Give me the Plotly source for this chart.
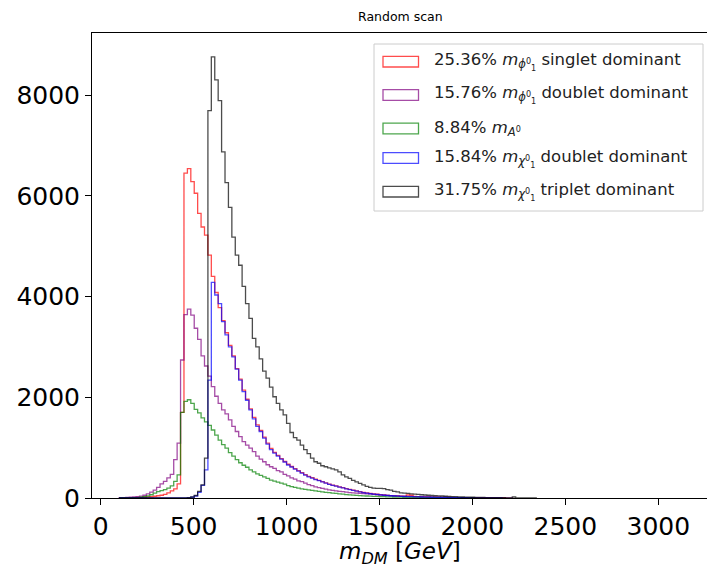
import plotly.graph_objects as go

# Histogram binning (GeV)
FIRST_EDGE = 98.4
BIN_WIDTH = 18.4

# Series labels, in drawing / legend order
labels = [
    "25.36% <i>m</i><sub><i>ϕ</i><sup>0</sup><sub>1</sub></sub> singlet dominant",
    "15.76% <i>m</i><sub><i>ϕ</i><sup>0</sup><sub>1</sub></sub> doublet dominant",
    "8.84% <i>m</i><sub><i>A</i><sup>0</sup></sub>",
    "15.84% <i>m</i><sub><i>χ</i><sup>0</sup><sub>1</sub></sub> doublet dominant",
    "31.75% <i>m</i><sub><i>χ</i><sup>0</sup><sub>1</sub></sub> triplet dominant",
]

colors = [
    "rgba(255,0,0,0.7)",
    "rgba(128,0,128,0.7)",
    "rgba(0,128,0,0.7)",
    "rgba(0,0,255,0.7)",
    "rgba(0,0,0,0.7)",
]

# Counts per bin, first bin starts at FIRST_EDGE
phi_singlet = [
    0, 2, 3, 5, 7, 10, 12, 15, 20, 25, 35, 45, 55, 70, 100, 140, 180, 280, 1700,
    6450, 6540, 6280, 6050, 5650, 5380, 5220, 4820, 4400, 4080,
    3780, 3520, 3280, 3030, 2820, 2570, 2360, 2140, 1960, 1770,
    1600, 1450, 1340, 1210, 1090, 985, 905, 845, 780, 725,
    670, 625, 585, 545, 505, 465, 430, 405, 375, 350,
    325, 300, 275, 255, 240, 220, 205, 185, 170, 155,
    140, 125, 112, 100, 90, 82, 74, 66, 60, 54,
    48, 43, 40, 36, 33, 60, 55, 30, 28, 25,
    22, 20, 18, 16, 15, 13, 12, 10, 9, 8,
    7, 6, 5, 5, 4, 4, 3, 3, 2, 2, 2, 1, 1, 1,
]

phi_doublet = [
    3, 8, 12, 18, 22, 28, 38, 55, 80, 115, 155, 210, 280, 330, 400, 470, 760, 1090, 2740,
    3640, 3750, 3630, 3370, 3150, 2820, 2620, 2420, 2210, 2020,
    1880, 1750, 1670, 1550, 1420, 1320, 1220, 1120, 1050, 990,
    920, 830, 770, 720, 660, 620, 590, 545, 520, 470,
    440, 400, 375, 340, 325, 295, 265, 245, 220, 205,
    190, 175, 160, 150, 140, 130, 125, 115, 108, 100,
    95, 90, 85, 80, 75, 70, 65, 60, 56, 52,
    48, 45, 42, 38, 35, 32, 30, 28, 26, 24,
    22, 20, 18, 16, 15, 14, 12, 11, 10, 9,
    8, 7, 6, 5, 5, 4, 4, 3, 3, 2, 2, 2, 1, 1, 1, 1,
]

a_zero = [
    0, 1, 2, 3, 5, 8, 15, 25, 40, 65, 95, 125, 145, 165, 195, 240, 330, 460, 1700,
    1920, 1950, 1880, 1760, 1690, 1590, 1510, 1440, 1350, 1250,
    1150, 1060, 990, 900, 830, 760, 700, 650, 610, 560,
    520, 480, 450, 420, 390, 355, 335, 315, 295, 275,
    245, 225, 210, 195, 180, 170, 160, 150, 140, 130,
    120, 112, 105, 98, 90, 82, 75, 68, 62, 57,
    52, 48, 44, 40, 37, 34, 31, 28, 26, 24,
    22, 20, 18, 16, 15, 14, 12, 11, 10, 9,
    8, 7, 6, 5, 5, 4, 4, 3, 3, 2, 2, 2, 1, 1, 1,
]

chi_doublet = [
    0, 0, 0, 0, 0, 0, 0, 0, 0, 0, 0, 0, 0, 0, 0, 0, 0, 0, 1,
    2, 5, 15, 40, 110, 250, 560, 2340, 4280, 4030,
    3860, 3500, 3240, 3000, 2800, 2560, 2340, 2110, 1940, 1750,
    1570, 1420, 1320, 1190, 1070, 960, 890, 830, 770, 715,
    655, 615, 575, 535, 495, 455, 420, 395, 365, 345,
    320, 295, 270, 250, 235, 215, 200, 180, 165, 150,
    135, 120, 108, 97, 87, 78, 70, 62, 55, 50,
    45, 40, 36, 33, 30, 28, 26, 24, 22, 20,
    18, 16, 15, 14, 12, 11, 10, 9, 8, 7,
    6, 5, 5, 4, 4, 3, 3, 2, 2, 2, 1, 1, 1,
]

chi_triplet = [
    0, 0, 0, 0, 0, 0, 0, 0, 0, 0, 0, 0, 0, 0, 0, 0, 0, 1, 2,
    3, 8, 20, 50, 130, 260, 790, 7690, 8756, 8300,
    7890, 6870, 6260, 5770, 5180, 4820, 4620, 4200, 3860, 3565,
    3170, 3000, 2760, 2520, 2380, 2200, 2010, 1880, 1750, 1650,
    1480, 1300, 1200, 1150, 1050, 960, 880, 790, 720, 690,
    640, 620, 600, 580, 560, 520, 460, 420, 390, 350,
    320, 290, 260, 230, 210, 195, 192, 192, 185, 165,
    155, 130, 120, 100, 95, 90, 80, 78, 70, 65,
    60, 55, 50, 45, 42, 40, 35, 30, 28, 26,
    22, 20, 18, 16, 15, 14, 12, 10, 9, 8,
    7, 6, 5, 5, 4, 4, 20, 3, 2, 2, 2, 1, 1,
]

series = [phi_singlet, phi_doublet, a_zero, chi_doublet, chi_triplet]

x_ticks = [0, 500, 1000, 1500, 2000, 2500, 3000]
y_ticks = [0, 2000, 4000, 6000, 8000]

fig = go.Figure()

for counts, color in zip(series, colors):
    edges = [FIRST_EDGE + BIN_WIDTH * i for i in range(len(counts) + 1)]
    xs = [edges[0]] + edges[:-1] + [edges[-1]]
    ys = [0] + list(counts) + [0]
    fig.add_trace(go.Scatter(
        x=xs, y=ys, mode="lines",
        line=dict(shape="hv", color=color, width=1.3),
        showlegend=False, hoverinfo="skip",
    ))

# Plot-area geometry in pixels, used to place the legend box
L, R, T, B = 92, 707, 33, 498
W, H = R - L, B - T


def px(x):
    return (x - L) / W


def py(y):
    return (B - y) / H


shapes = [
    dict(type="rect", xref="paper", yref="paper",
         x0=px(374), x1=px(703), y0=py(211), y1=py(44),
         line=dict(color="rgba(204,204,204,1)", width=1),
         fillcolor="rgba(255,255,255,0.8)", layer="above"),
]
annotations = []
row_centers = [61.7, 95.0, 128.5, 158.0, 191.7]
for lab, color, yc in zip(labels, colors, row_centers):
    shapes.append(dict(
        type="rect", xref="paper", yref="paper",
        x0=px(383), x1=px(418.5), y0=py(yc + 5.3), y1=py(yc - 5.3),
        line=dict(color=color, width=1.3), fillcolor="rgba(0,0,0,0)", layer="above",
    ))
    annotations.append(dict(
        text=lab, xref="paper", yref="paper", x=px(432), y=py(yc),
        xanchor="left", yanchor="middle", showarrow=False,
        font=dict(size=16.5, family="DejaVu Sans", color="#222"),
    ))

annotations.append(dict(
    text="Random scan", xref="paper", yref="paper", x=px(400), y=py(17),
    xanchor="center", yanchor="middle", showarrow=False,
    font=dict(size=12.5, family="DejaVu Sans", color="black"),
))
annotations.append(dict(
    text="<i>m</i><sub><i>DM</i></sub> [<i>GeV</i>]", xref="paper", yref="paper",
    x=px(400), y=py(553), xanchor="center", yanchor="middle", showarrow=False,
    font=dict(size=23, family="DejaVu Sans", color="black"),
))

fig.update_layout(
    width=707, height=568,
    margin=dict(l=L, r=707 - R, t=T, b=568 - B),
    plot_bgcolor="white", paper_bgcolor="white",
    font=dict(family="DejaVu Sans", color="black"),
    shapes=shapes, annotations=annotations,
    xaxis=dict(
        range=[-46.8, 3262], tickvals=x_ticks, ticks="outside", ticklen=6,
        tickwidth=1, tickcolor="black", showline=True, linecolor="black",
        linewidth=1, mirror=True, showgrid=False, zeroline=False,
        tickfont=dict(size=25),
    ),
    yaxis=dict(
        range=[0, 9231], tickvals=y_ticks, ticks="outside", ticklen=6,
        tickwidth=1, tickcolor="black", showline=True, linecolor="black",
        linewidth=1, mirror=False, showgrid=False, zeroline=False,
        tickfont=dict(size=25),
    ),
)

fig.write_html("out.html")
